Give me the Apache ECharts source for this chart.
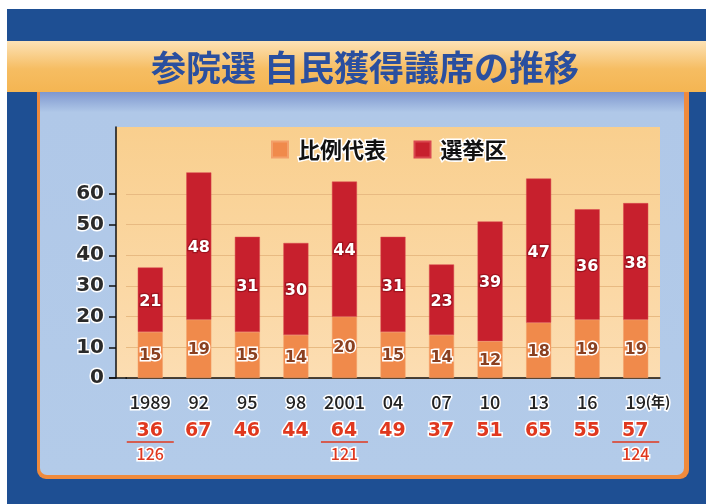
<!DOCTYPE html>
<html>
<head>
<meta charset="utf-8">
<script src="https://cdn.jsdelivr.net/npm/echarts@6/dist/echarts.min.js"></script>
<style>
  html, body { margin: 0; padding: 0; background: #fff; }
  #chart { width: 706px; height: 504px; }
</style>
</head>
<body>
<div id="chart"></div>
<script>
var years = ['1989', '92', '95', '98', '2001', '04', '07', '10', '13', '16', '19']
var hirei = [15, 19, 15, 14, 20, 15, 14, 12, 18, 19, 19]
var senkyoku = [21, 48, 31, 30, 44, 31, 23, 39, 47, 36, 38]
var totals = [36, 67, 46, 44, 64, 49, 37, 51, 65, 55, 57]
// 改選数 (only shown for some years)
var kaisen = { 0: 126, 4: 121, 10: 124 }
var yTicks = [0, 10, 20, 30, 40, 50, 60]

var FONT = '"Noto Sans CJK JP", "Noto Sans", sans-serif'
var NUM = '"DejaVu Sans", sans-serif'
var chart = echarts.init(document.getElementById('chart'))

var option = {
  animation: false,
  textStyle: { fontFamily: FONT },
  graphic: [
    // outer dark blue frame
    { type: 'rect', z: -20, shape: { x: 7, y: 9, width: 699, height: 495 }, style: { fill: '#1e4f93' } },
    // orange border + light blue panel
    { type: 'rect', z: -19, shape: { x: 37, y: 85, width: 652, height: 394, r: [0, 0, 9, 9] }, style: { fill: '#ef8a3c' } },
    {
      type: 'rect', z: -18, shape: { x: 40, y: 85, width: 644, height: 390, r: [0, 0, 7, 7] },
      style: {
        fill: new echarts.graphic.LinearGradient(0, 0, 0, 1, [
          { offset: 0, color: '#6d86c6' },
          { offset: 0.07, color: '#b0c8e8' },
          { offset: 1, color: '#b3cbe9' }
        ])
      }
    },
    // title band
    {
      type: 'rect', z: -17, shape: { x: 7, y: 41, width: 699, height: 51 },
      style: {
        fill: new echarts.graphic.LinearGradient(0, 0, 0, 1, [
          { offset: 0, color: '#fce2b6' },
          { offset: 0.55, color: '#f6bd62' },
          { offset: 1, color: '#f4b552' }
        ])
      }
    },
    // plot background
    {
      type: 'rect', z: -16, shape: { x: 116, y: 127, width: 544, height: 251 },
      style: {
        fill: new echarts.graphic.LinearGradient(0, 0, 0, 1, [
          { offset: 0, color: '#f9cf8e' },
          { offset: 1, color: '#fcddb2' }
        ])
      }
    },
    { type: 'line', z: 5, shape: { x1: 109, y1: 378, x2: 127, y2: 378 }, style: { stroke: '#111', lineWidth: 1.5 } },
    {
      type: 'text', z: 5, x: 365, y: 68,
      style: {
        text: '参院選 自民獲得議席の推移',
        fill: '#2a4f9f',
        font: 'bold 35px ' + FONT,
        align: 'center',
        verticalAlign: 'middle',
        shadowColor: '#ffffff',
        shadowOffsetX: 1.5,
        shadowOffsetY: 1.5,
        shadowBlur: 0
      }
    }
  ],
  legend: {
    left: 271,
    top: 137,
    padding: 0,
    icon: 'rect',
    itemWidth: 16,
    itemHeight: 16,
    itemGap: 26,
    textStyle: {
      fontFamily: FONT, fontSize: 22, fontWeight: 'bold', color: '#111',
      textBorderColor: '#fff', textBorderWidth: 3, padding: [0, 0, 0, 5]
    },
    data: ['比例代表', '選挙区']
  },
  grid: { left: 126, right: 46, top: 127, bottom: 126 },
  xAxis: {
    type: 'category',
    data: years,
    axisLine: { lineStyle: { color: '#111', width: 1.5 } },
    axisTick: { alignWithLabel: true, length: 7, lineStyle: { color: '#111', width: 1.5 } },
    axisLabel: {
      margin: 13,
      interval: 0,
      formatter: function (v, i) {
        var yr = i === years.length - 1 ? '{sp| }{yr|' + v + '}{nen|(年)}' : '{yr|' + v + '}'
        var s = yr + '\n{tot|' + totals[i] + '}{g| }'
        if (kaisen[i]) {
          s += '\n{ln| }\n{den|' + kaisen[i] + '}'
        }
        return s
      },
      rich: {
        yr: { fontSize: 18, fontWeight: 500, color: '#222', textBorderColor: '#fff', textBorderWidth: 3, lineHeight: 22 },
        sp: { width: 24, lineHeight: 22 },
        nen: { fontSize: 14, fontWeight: 'bold', color: '#222', textBorderColor: '#fff', textBorderWidth: 3, width: 24, lineHeight: 22 },
        g: { width: 1, lineHeight: 28 },
        tot: {
          fontFamily: NUM, fontSize: 19, fontWeight: 'bold', color: '#e0381e',
          textBorderColor: '#fff', textBorderWidth: 3, lineHeight: 20, verticalAlign: 'bottom'
        },
        ln: { width: 47, height: 1.5, lineHeight: 2, backgroundColor: '#e0381e' },
        den: { fontSize: 16, fontWeight: 500, color: '#e0381e', textBorderColor: '#fff', textBorderWidth: 3, lineHeight: 22 }
      }
    }
  },
  yAxis: {
    type: 'value',
    min: 0,
    max: 81.8,
    interval: 10,
    offset: 10,
    axisLine: { show: true, lineStyle: { color: '#111', width: 1.5 } },
    axisTick: { show: true, length: 7, customValues: yTicks, lineStyle: { color: '#111', width: 1.5 } },
    axisLabel: {
      customValues: yTicks,
      margin: 12,
      fontFamily: NUM,
      fontSize: 20,
      fontWeight: 'bold',
      color: '#2a2a2a',
      textBorderColor: '#fff',
      textBorderWidth: 3
    },
    splitLine: { show: true, lineStyle: { color: '#e8ba82', width: 1 } }
  },
  series: [
    {
      name: '比例代表',
      type: 'bar',
      stack: 'total',
      barWidth: 25,
      data: hirei,
      itemStyle: { color: '#f08a4b', borderColor: '#f3a06a', borderWidth: 0.5 },
      label: {
        show: true, position: 'inside', offset: [0, 1], fontFamily: NUM, fontSize: 16, fontWeight: 'bold',
        color: '#8a4020', textBorderColor: '#fff', textBorderWidth: 3
      }
    },
    {
      name: '選挙区',
      type: 'bar',
      stack: 'total',
      barWidth: 25,
      data: senkyoku,
      itemStyle: { color: '#c7202d', borderColor: '#d9474f', borderWidth: 0.5 },
      label: {
        show: true, position: 'inside', offset: [0, 2], fontFamily: NUM, fontSize: 16, fontWeight: 'bold',
        color: '#fff', textBorderColor: '#a0141f', textBorderWidth: 2.5
      }
    }
  ]
}

chart.setOption(option)
</script>
</body>
</html>
